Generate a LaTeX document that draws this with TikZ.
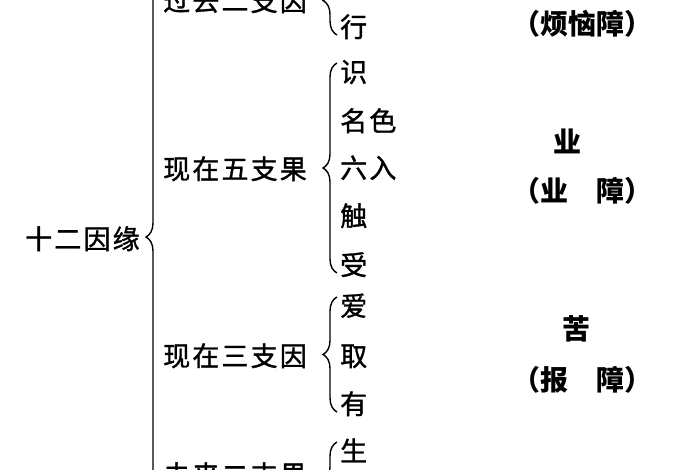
\documentclass[tikz,border=0pt]{standalone}
\usepackage{fontspec}
\setmainfont{Noto Sans CJK SC}
\newfontfamily\hei[LetterSpace=8,FakeBold=1.2]{Noto Sans CJK SC}
\usetikzlibrary{decorations.pathreplacing,positioning,calc}

\begin{document}
\begin{tikzpicture}[x=1pt, y=-1pt,
    txt/.style={inner sep=0pt, anchor=west, text height=21pt, text depth=3pt,
      font=\hei\fontsize{27}{27}\selectfont},
    zhang/.style={inner sep=0pt, text height=21pt, text depth=3pt,
      font=\bfseries\fontsize{28}{28}\selectfont},
    br/.style={decorate, decoration={brace, amplitude=14pt}, line width=1.4pt}]

  \useasboundingbox[fill=white] (0,0) rectangle (700,470);

  % Root and the four groups
  \node[txt] (root) at (25,240) {十二因缘};
  \node[txt] (g1) at (163,2) {过去二支因};
  \node[txt] (g2) at (163,170) {现在五支果};
  \node[txt] (g3) at (163,357) {现在三支因};
  \node[txt] (g4) at (163,476) {未来二支果};

  % Members of each group
  \node[txt] (xing) at (340,28) {行};
  \node[txt] (shi) at (340,73) {识};
  \node[txt] (mingse) at (340,122) {名色};
  \node[txt] (liuru) at (340,169) {六入};
  \node[txt] (chu) at (340,217) {触};
  \node[txt] (shou) at (340,266) {受};
  \node[txt] (ai) at (340,307) {爱};
  \node[txt] (qu) at (340,357) {取};
  \node[txt] (you) at (340,405) {有};
  \node[txt] (sheng) at (340,452) {生};

  % The three hindrances
  \node[zhang] (fannao) at (582,26) {（烦恼障）};
  \node[zhang] (ye) at (567,144) {业};
  \node[zhang] (yezhang) at (582,192) {（业　障）};
  \node[zhang] (ku) at (576,330) {苦};
  \node[zhang] (baozhang) at (582,381) {（报　障）};

  % Ends of the braces that run past the frame
  \coordinate (top) at (160,-60);
  \coordinate (bot) at (160,534);
  \coordinate (g1top) at (337,-34);
  \coordinate (g4bot) at (337,520);

  % Braces
  \draw[br] (bot) -- (top);
  \draw[br] ([shift={(-3,7)}]xing.west) -- (g1top);
  \draw[br] ([shift={(-3,7)}]shou.west) -- ([shift={(-3,-10)}]shi.west);
  \draw[br] ([shift={(-3,7)}]you.west) -- ([shift={(-3,-10)}]ai.west);
  \draw[br] (g4bot) -- ([shift={(-3,-10)}]sheng.west);

\end{tikzpicture}
\end{document}
